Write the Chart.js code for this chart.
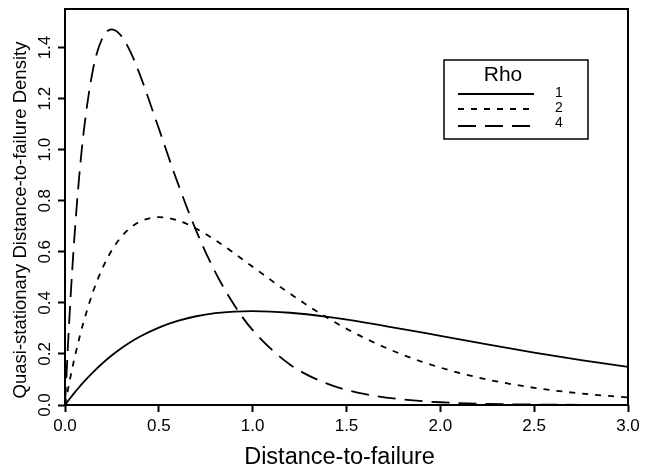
<!DOCTYPE html>
<html>
<head>
<meta charset="utf-8">
<script src="https://cdn.jsdelivr.net/npm/chart.js@4/dist/chart.umd.min.js"></script>
<style>
  html, body { margin: 0; padding: 0; background: #ffffff; }
  #wrap { width: 655px; height: 470px; position: relative; }
</style>
</head>
<body>
<div id="wrap"><canvas id="c" width="655" height="470"></canvas></div>
<script>
// ---- data ----
const distance = [0, 0.025, 0.05, 0.075, 0.1, 0.15, 0.2, 0.25, 0.3, 0.35, 0.4, 0.5, 0.6, 0.7, 0.8, 0.9, 1.0, 1.2, 1.4, 1.6, 1.8, 2.0, 2.25, 2.5, 2.75, 3.0];
const rho1 = [0, 0.0244, 0.0476, 0.0696, 0.0905, 0.1291, 0.1637, 0.1947, 0.2222, 0.2466, 0.2681, 0.3033, 0.3293, 0.3476, 0.3595, 0.3659, 0.3679, 0.3614, 0.3452, 0.3230, 0.2975, 0.2707, 0.2371, 0.2052, 0.1758, 0.1494];
const rho2 = [0, 0.0951, 0.1810, 0.2582, 0.3275, 0.4445, 0.5363, 0.6065, 0.6586, 0.6952, 0.7189, 0.7358, 0.7229, 0.6905, 0.6461, 0.5951, 0.5413, 0.4355, 0.3405, 0.2609, 0.1967, 0.1465, 0.1000, 0.0674, 0.0450, 0.0297];
const rho4 = [0, 0.3619, 0.6550, 0.8890, 1.0725, 1.3171, 1.4379, 1.4715, 1.4457, 1.3810, 1.2922, 1.0827, 0.8709, 0.6811, 0.5217, 0.3934, 0.2931, 0.1580, 0.0828, 0.0425, 0.0215, 0.0107, 0.0044, 0.0018, 0.0007, 0.0003];
const seriesLabels = ['1', '2', '4'];
const legendTitle = 'Rho';
const xTicks = [0, 0.5, 1.0, 1.5, 2.0, 2.5, 3.0];
const yTicks = [0, 0.2, 0.4, 0.6, 0.8, 1.0, 1.2, 1.4];
const xTitle = 'Distance-to-failure';
const yTitle = 'Quasi-stationary Distance-to-failure Density';

const FONT = "'Liberation Sans', Arial, Helvetica, sans-serif";
const toPts = (ys) => distance.map((x, i) => ({ x: x, y: ys[i] }));

const frame = {
  id: 'frame',
  afterDatasetsDraw(chart) {
    const { ctx, chartArea: a } = chart;
    ctx.save();
    ctx.strokeStyle = '#000';
    ctx.lineWidth = 2;
    ctx.setLineDash([]);
    ctx.strokeRect(a.left, a.top, a.right - a.left, a.bottom - a.top);
    ctx.restore();
  }
};

const axisTitles = {
  id: 'axisTitles',
  afterDraw(chart) {
    const ctx = chart.ctx;
    ctx.save();
    ctx.fillStyle = '#000';
    ctx.textAlign = 'center';
    ctx.textBaseline = 'middle';
    ctx.font = '23.5px ' + FONT;
    ctx.fillText(xTitle, 339.5, 458);
    ctx.translate(21, 220);
    ctx.rotate(-Math.PI / 2);
    ctx.font = '18.5px ' + FONT;
    ctx.fillText(yTitle, 0, 0);
    ctx.restore();
  }
};

const boxLegend = {
  id: 'boxLegend',
  afterDraw(chart) {
    const ctx = chart.ctx;
    ctx.save();
    ctx.strokeStyle = '#000';
    ctx.lineWidth = 1.5;
    ctx.setLineDash([]);
    ctx.strokeRect(444, 60, 144, 79);
    ctx.fillStyle = '#000';
    ctx.textAlign = 'center';
    ctx.textBaseline = 'middle';
    ctx.font = '21px ' + FONT;
    ctx.fillText(legendTitle, 503, 75);
    const lineYs = [94, 109, 126];
    const labYs = [93.5, 108.5, 123.5];
    chart.data.datasets.forEach((ds, i) => {
      ctx.lineWidth = ds.borderWidth;
      ctx.setLineDash(ds.borderDash || []);
      ctx.beginPath();
      ctx.moveTo(458, lineYs[i]);
      ctx.lineTo(534, lineYs[i]);
      ctx.stroke();
      ctx.setLineDash([]);
      ctx.font = '14px ' + FONT;
      ctx.fillText(ds.label, 559, labYs[i]);
    });
    ctx.restore();
  }
};

new Chart(document.getElementById('c'), {
  type: 'line',
  data: {
    datasets: [
      { label: seriesLabels[0], data: toPts(rho1), borderColor: '#000', borderWidth: 1.8, borderDash: [], pointRadius: 0, cubicInterpolationMode: 'monotone', fill: false },
      { label: seriesLabels[1], data: toPts(rho2), borderColor: '#000', borderWidth: 1.8, borderDash: [6, 7], pointRadius: 0, cubicInterpolationMode: 'monotone', fill: false },
      { label: seriesLabels[2], data: toPts(rho4), borderColor: '#000', borderWidth: 1.8, borderDash: [18, 9], pointRadius: 0, cubicInterpolationMode: 'monotone', fill: false }
    ]
  },
  options: {
    responsive: false,
    animation: false,
    events: [],
    layout: { padding: { top: 9, right: 27, left: 0, bottom: 0 } },
    plugins: { legend: { display: false }, tooltip: { enabled: false } },
    scales: {
      x: {
        type: 'linear', min: 0, max: 3,
        afterBuildTicks: (s) => { s.ticks = xTicks.map(v => ({ value: v })); },
        afterFit: (s) => { s.height = 65; s.paddingLeft = 0; s.paddingRight = 0; },
        border: { display: false },
        grid: { drawOnChartArea: false, drawTicks: true, tickLength: 7, tickColor: '#000', tickWidth: 2 },
        ticks: { color: '#000', font: { family: FONT, size: 17, lineHeight: 1.2 }, padding: 4.5, autoSkip: false, maxRotation: 0,
                 callback: (v) => Number(v).toFixed(1) },
        title: { display: false }
      },
      y: {
        type: 'linear', min: 0, max: 1.551,
        afterBuildTicks: (s) => { s.ticks = yTicks.map(v => ({ value: v })); },
        afterFit: (s) => { s.width = 65; s.paddingTop = 0; s.paddingBottom = 0; },
        border: { display: false },
        grid: { drawOnChartArea: false, drawTicks: true, tickLength: 7, tickColor: '#000', tickWidth: 2 },
        ticks: { color: '#000', font: { family: FONT, size: 17, lineHeight: 1.2 }, padding: 1, autoSkip: false,
                 minRotation: 90, maxRotation: 90, crossAlign: 'center',
                 callback: (v) => Number(v).toFixed(1) },
        title: { display: false }
      }
    }
  },
  plugins: [frame, axisTitles, boxLegend]
});
</script>
</body>
</html>
